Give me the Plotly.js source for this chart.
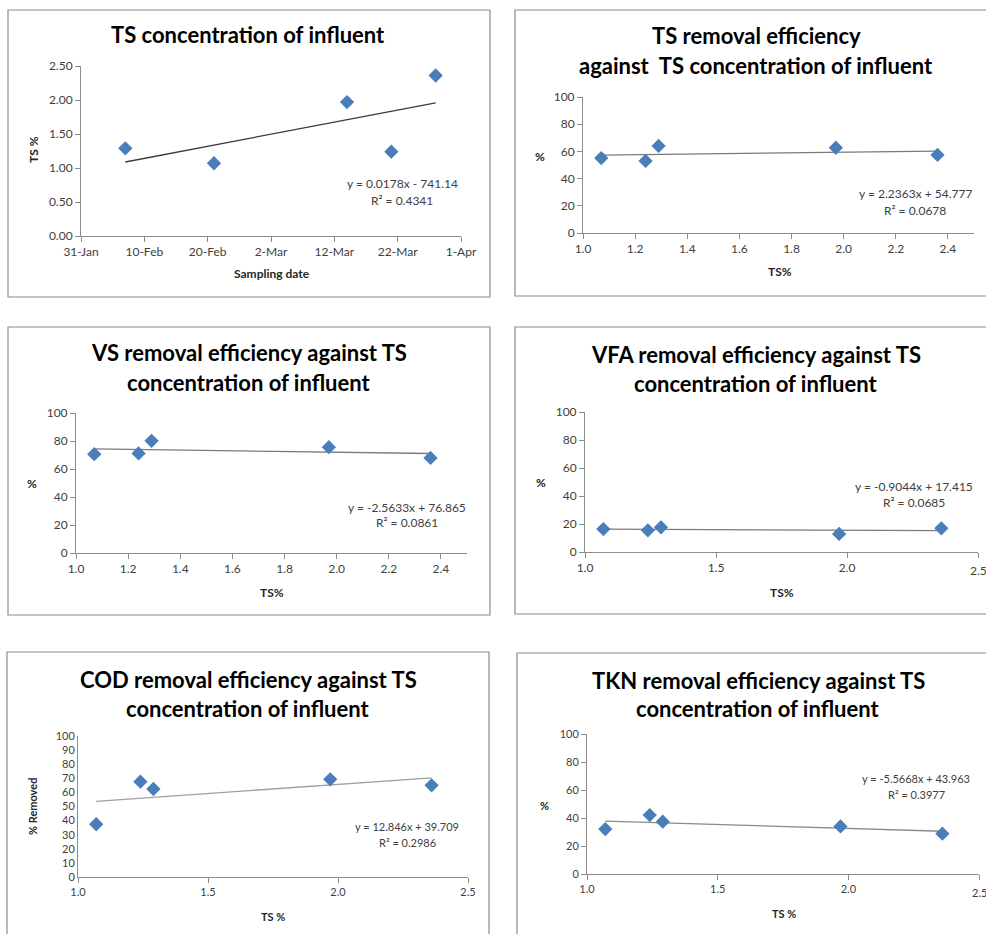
<!DOCTYPE html>
<html>
<head>
<meta charset="utf-8">
<script src="https://cdn.plot.ly/plotly-3.0.1.min.js"></script>
<style>html,body{margin:0;padding:0;background:#fff;}#chart{width:986px;height:934px;}</style>
</head>
<body>
<div id="chart"></div>
<script>
// ---------- data ----------
const samplingDates = ['2014-02-07', '2014-02-21', '2014-03-14', '2014-03-21', '2014-03-28'];
const tsInfluent = [1.29, 1.07, 1.97, 1.24, 2.36];

const tsX = [1.07, 1.24, 1.29, 1.97, 2.36];
const tsRemoval = [55.1, 53.0, 64.0, 62.7, 57.4];
const vsRemoval = [70.6, 71.1, 80.1, 75.6, 67.9];
const vfaRemoval = [16.4, 15.5, 17.6, 12.9, 16.9];
const codRemoval = [37.4, 67.6, 62.4, 69.3, 65.0];
const tknRemoval = [32.1, 42.1, 37.4, 34.0, 28.8];

const dateTicks = ['31-Jan', '10-Feb', '20-Feb', '2-Mar', '12-Mar', '22-Mar', '1-Apr'];
const dateTickVals = ['2014-01-31','2014-02-10','2014-02-20','2014-03-02','2014-03-12','2014-03-22','2014-04-01'];

const titles = [
  ['TS concentration of influent'],
  ['TS removal efficiency', 'against  TS concentration of influent'],
  ['VS removal efficiency against TS', 'concentration of influent'],
  ['VFA removal efficiency against TS', 'concentration of influent'],
  ['COD removal efficiency against TS', 'concentration of influent'],
  ['TKN removal efficiency against TS', 'concentration of influent']
];
const equations = [
  ['y = 0.0178x - 741.14', 'R² = 0.4341'],
  ['y = 2.2363x + 54.777', 'R² = 0.0678'],
  ['y = -2.5633x + 76.865', 'R² = 0.0861'],
  ['y = -0.9044x + 17.415', 'R² = 0.0685'],
  ['y = 12.846x + 39.709', 'R² = 0.2986'],
  ['y = -5.5668x + 43.963', 'R² = 0.3977']
];
const xTitles = ['Sampling date', 'TS%', 'TS%', 'TS%', 'TS %', 'TS %'];
const yTitles = ['TS %', '%', '%', '%', '% Removed', '%'];

// ---------- layout helpers ----------
const W = 986, H = 934;
const px = v => v / W;
const py = v => 1 - v / H;
const FONT = 'Lato, "Open Sans", "Liberation Sans", sans-serif';
const BLUE = '#4A7EBB';
const AXIS = '#8c8c8c';
const TICKC = '#404040';

// pixel geometry of each panel
const panels = [
  {box:[8,10,490,297],  x:[81,461],  y:[66,236],  tl:[248,[35]],      eq:[402,184,200], xt:[272,273], yt:[33,150,true],  trend:'#3a3a3a', edgeLbl:null},
  {box:[515,10,992,296],x:[583,974], y:[97,233],  tl:[756,[36,66]],   eq:[915,193,210], xt:[780,271], yt:[540,157,false], trend:'#7a7a7a', edgeLbl:null},
  {box:[8,327,490,615], x:[76,467],  y:[413,553], tl:[249,[353,382]], eq:[407,507,522], xt:[272,592], yt:[32,483,false], trend:'#7a7a7a', edgeLbl:null},
  {box:[515,327,992,614],x:[585,978],y:[412,552], tl:[756,[354,383]], eq:[914,486,503], xt:[782,592], yt:[541,482,false], trend:'#7a7a7a', edgeLbl:570},
  {box:[7,652,489,940], x:[78,468],  y:[736,877], tl:[248,[679,708]], eq:[407,826,842], xt:[273,916], yt:[32,807,true],  trend:'#a0a0a0', edgeLbl:null},
  {box:[517,653,992,940],x:[587,979],y:[734,874], tl:[758,[680,708]], eq:[916,778,794], xt:[784,913], yt:[544,805,false], trend:'#8a8a8a', edgeLbl:892}
];

function fit(xs, ys) {
  const n = xs.length;
  const mx = xs.reduce((a,b)=>a+b,0)/n, my = ys.reduce((a,b)=>a+b,0)/n;
  let sxy = 0, sxx = 0;
  for (let i=0;i<n;i++){ sxy += (xs[i]-mx)*(ys[i]-my); sxx += (xs[i]-mx)**2; }
  const b = sxy/sxx, a = my - b*mx;
  return {a, b};
}

const traces = [];
const layout = {
  width: W, height: H,
  margin: {l:0, r:0, t:0, b:0, pad:0},
  paper_bgcolor: '#ffffff', plot_bgcolor: 'rgba(0,0,0,0)',
  showlegend: false,
  font: {family: FONT, color: TICKC},
  shapes: [], annotations: []
};

const seriesY = [tsInfluent, tsRemoval, vsRemoval, vfaRemoval, codRemoval, tknRemoval];

panels.forEach((p, i) => {
  const k = i === 0 ? '' : String(i+1);
  const xa = 'xaxis' + k, ya = 'yaxis' + k;
  const xr = 'x' + k, yr = 'y' + k;
  const tsize = i >= 4 ? 11 : 12;

  const baseX = {
    domain: [px(p.x[0]), px(p.x[1])], anchor: yr,
    showline: true, linecolor: AXIS, linewidth: 1,
    showgrid: false, zeroline: false,
    ticks: 'outside', ticklen: 5, tickcolor: AXIS, tickwidth: 1,
    tickfont: {family: FONT, size: tsize, color: TICKC},
    fixedrange: true
  };
  const baseY = {
    domain: [py(p.y[1]), py(p.y[0])], anchor: xr,
    showline: true, linecolor: AXIS, linewidth: 1,
    showgrid: false, zeroline: false,
    ticks: i === 4 ? '' : 'outside', ticklen: 5, tickcolor: AXIS, tickwidth: 1,
    tickfont: {family: FONT, size: tsize, color: TICKC},
    fixedrange: true
  };

  if (i === 0) {
    layout[xa] = Object.assign(baseX, {
      type: 'date', range: ['2014-01-31', '2014-04-01'],
      tickmode: 'array', tickvals: dateTickVals, ticktext: dateTicks
    });
    layout[ya] = Object.assign(baseY, {range: [0, 2.5], dtick: 0.5, tick0: 0, tickformat: '.2f'});
  } else {
    const dt = (i === 1 || i === 2) ? 0.2 : 0.5;
    layout[xa] = Object.assign(baseX, {range: [1.0, 2.5], dtick: dt, tick0: 1.0, tickformat: '.1f'});
    layout[ya] = Object.assign(baseY, {range: [0, 100], dtick: i === 4 ? 10 : 20, tick0: 0});
  }

  // trendline (least squares through the data)
  const xsRaw = i === 0 ? samplingDates : tsX;
  const xsNum = i === 0 ? samplingDates.map(d => new Date(d + 'T00:00:00Z').getTime()) : tsX;
  const f = fit(xsNum, seriesY[i]);
  let iMin = 0, iMax = 0;
  xsNum.forEach((v, j) => { if (v < xsNum[iMin]) iMin = j; if (v > xsNum[iMax]) iMax = j; });
  traces.push({
    type: 'scatter', mode: 'lines', xaxis: xr, yaxis: yr,
    x: [xsRaw[iMin], xsRaw[iMax]],
    y: [f.a + f.b*xsNum[iMin], f.a + f.b*xsNum[iMax]],
    line: {color: p.trend, width: 1.3}, hoverinfo: 'skip'
  });
  traces.push({
    type: 'scatter', mode: 'markers', xaxis: xr, yaxis: yr,
    x: xsRaw, y: seriesY[i],
    marker: {symbol: 'diamond', size: 11, color: BLUE, line: {width: 0}}
  });

  // last tick label cut by the right page edge
  if (p.edgeLbl) {
    layout.annotations.push({
      xref: xr, yref: 'paper', x: 2.5, y: py(p.edgeLbl),
      xanchor: 'center', yanchor: 'middle', showarrow: false,
      text: '2.5', font: {family: FONT, size: tsize, color: TICKC}
    });
  }

  // border
  layout.shapes.push({
    type: 'rect', xref: 'paper', yref: 'paper',
    x0: px(p.box[0]), x1: px(p.box[2]), y0: py(p.box[3]), y1: py(p.box[1]),
    line: {color: '#8c8c8c', width: 1.2}, fillcolor: 'rgba(0,0,0,0)', layer: 'below'
  });

  // title lines
  titles[i].forEach((t, j) => {
    layout.annotations.push({
      xref: 'paper', yref: 'paper', x: px(p.tl[0]), y: py(p.tl[1][j]),
      xanchor: 'center', yanchor: 'middle', showarrow: false,
      text: '<b>' + t + '</b>', font: {family: FONT, size: 22, color: '#000000'}
    });
  });

  // equation
  equations[i].forEach((t, j) => {
    layout.annotations.push({
      xref: 'paper', yref: 'paper', x: px(p.eq[0]), y: py(p.eq[1+j]),
      xanchor: 'center', yanchor: 'middle', showarrow: false,
      text: t, font: {family: FONT, size: tsize, color: TICKC}
    });
  });

  // x title
  layout.annotations.push({
    xref: 'paper', yref: 'paper', x: px(p.xt[0]), y: py(p.xt[1]),
    xanchor: 'center', yanchor: 'middle', showarrow: false,
    text: '<b>' + xTitles[i] + '</b>', font: {family: FONT, size: tsize, color: '#262626'}
  });
  // y title
  layout.annotations.push({
    xref: 'paper', yref: 'paper', x: px(p.yt[0]), y: py(p.yt[1]),
    xanchor: 'center', yanchor: 'middle', showarrow: false,
    textangle: p.yt[2] ? -90 : 0,
    text: '<b>' + yTitles[i] + '</b>', font: {family: FONT, size: tsize, color: '#262626'}
  });
});

Plotly.newPlot('chart', traces, layout, {staticPlot: true, displayModeBar: false});
</script>
</body>
</html>
